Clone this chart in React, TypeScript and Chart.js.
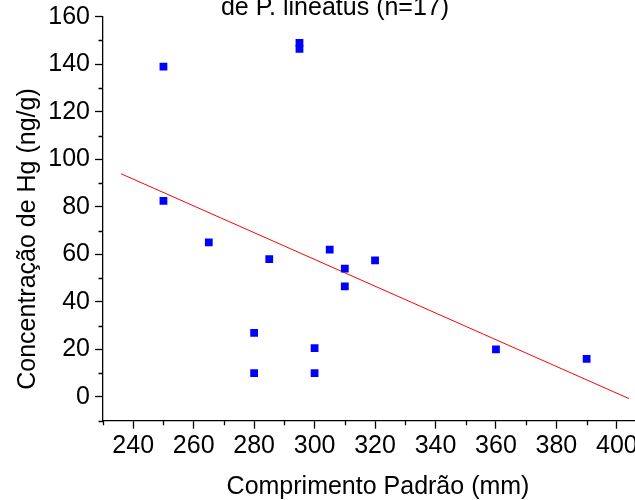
import React, { useEffect, useRef } from 'react';
import { Chart, registerables } from 'chart.js';

Chart.register(...registerables);

const FONT = '"Liberation Sans", Arial, Helvetica, sans-serif';
const FS = 25;

const TITLE = 'de P. lineatus (n=17)';
const X_TITLE = 'Comprimento Padrão (mm)';
const Y_TITLE = 'Concentração de Hg (ng/g)';

// Comprimento padrão (mm) and Hg concentration (ng/g)
const lengthMm = [250, 250, 265, 280, 280, 285, 295, 295, 300, 300, 305, 310, 310, 320, 360, 390];
const hgNgG = [139, 82.5, 65, 27, 10, 58, 149, 146.5, 20.5, 10, 62, 54, 46.5, 57.5, 20, 16];

// Linear fit line end points
const fitX = [236, 404];
const fitY = [93.9, -0.7];

const xTicks = [240, 260, 280, 300, 320, 340, 360, 380, 400];
const xMinorTicks = [230, 250, 270, 290, 310, 330, 350, 370, 390];
const yTicks = [0, 20, 40, 60, 80, 100, 120, 140, 160];
const yMinorTicks = [-10, 10, 30, 50, 70, 90, 110, 130, 150];

const decorPlugin = {
  id: 'decor',
  afterDraw(chart: any) {
    const ctx = chart.ctx;
    const xs = chart.scales.x;
    const ys = chart.scales.y;
    ctx.save();
    ctx.strokeStyle = '#000';
    ctx.lineWidth = 1.3;
    ctx.beginPath();
    xMinorTicks.forEach((v) => {
      const p = Math.round(xs.getPixelForValue(v)) + 0.5;
      ctx.moveTo(p, xs.top);
      ctx.lineTo(p, xs.top + 4.5);
    });
    yMinorTicks.forEach((v) => {
      const p = Math.round(ys.getPixelForValue(v)) + 0.5;
      ctx.moveTo(ys.right, p);
      ctx.lineTo(ys.right - 4.5, p);
    });
    ctx.stroke();

    ctx.fillStyle = '#000';
    ctx.font = `${FS}px ${FONT}`;
    ctx.textAlign = 'center';
    ctx.textBaseline = 'alphabetic';
    ctx.fillText(TITLE, 335, 15);
    ctx.fillText(X_TITLE, 378, 494);
    ctx.translate(35, 239);
    ctx.rotate(-Math.PI / 2);
    ctx.fillText(Y_TITLE, 0, 0);
    ctx.restore();
  },
};

export default function App() {
  const ref = useRef<HTMLCanvasElement | null>(null);

  useEffect(() => {
    if (!ref.current) return;
    const points = lengthMm.map((x, i) => ({ x, y: hgNgG[i] }));
    const fit = fitX.map((x, i) => ({ x, y: fitY[i] }));
    const chart = new Chart(ref.current, {
      type: 'scatter',
      data: {
        datasets: [
          {
            label: 'Hg',
            data: points,
            pointStyle: 'rect',
            pointRadius: 5.5,
            pointBorderWidth: 0,
            backgroundColor: '#0000ff',
            borderColor: '#0000ff',
            showLine: false,
          },
          {
            label: 'fit',
            data: fit,
            showLine: true,
            pointRadius: 0,
            borderColor: '#ff0000',
            borderWidth: 1,
            backgroundColor: '#ff0000',
          },
        ],
      },
      options: {
        animation: false,
        responsive: false,
        devicePixelRatio: 1,
        layout: { autoPadding: false, padding: { top: 16.7, left: 0, right: 0, bottom: 0 } },
        plugins: {
          legend: { display: false },
          tooltip: { enabled: false },
          title: { display: false },
        },
        scales: {
          x: {
            type: 'linear',
            min: 230,
            max: 406,
            afterBuildTicks: (s: any) => {
              s.ticks = xTicks.map((value) => ({ value }));
            },
            afterFit: (s: any) => {
              s.height = 79.3;
              s.paddingLeft = 0;
              s.paddingRight = 0;
            },
            grid: {
              display: true,
              drawOnChartArea: false,
              drawTicks: true,
              tickLength: 8,
              tickWidth: 1.3,
              tickColor: '#000',
            },
            border: { display: true, color: '#000', width: 1.3 },
            ticks: {
              color: '#000',
              font: { family: FONT, size: FS },
              padding: 2,
              maxRotation: 0,
              autoSkip: false,
            },
          },
          y: {
            type: 'linear',
            min: -10,
            max: 160,
            afterBuildTicks: (s: any) => {
              s.ticks = yTicks.map((value) => ({ value }));
            },
            afterFit: (s: any) => {
              s.width = 103;
              s.paddingTop = 0;
              s.paddingBottom = 0;
            },
            grid: {
              display: true,
              drawOnChartArea: false,
              drawTicks: true,
              tickLength: 8,
              tickWidth: 1.3,
              tickColor: '#000',
            },
            border: { display: true, color: '#000', width: 1.3 },
            ticks: {
              color: '#000',
              font: { family: FONT, size: FS },
              padding: 5,
              autoSkip: false,
            },
          },
        },
      },
      plugins: [decorPlugin],
    });
    return () => chart.destroy();
  }, []);

  return (
    <canvas
      ref={ref}
      width={635}
      height={500}
      style={{ position: 'absolute', left: 0, top: 0, display: 'block' }}
    />
  );
}
